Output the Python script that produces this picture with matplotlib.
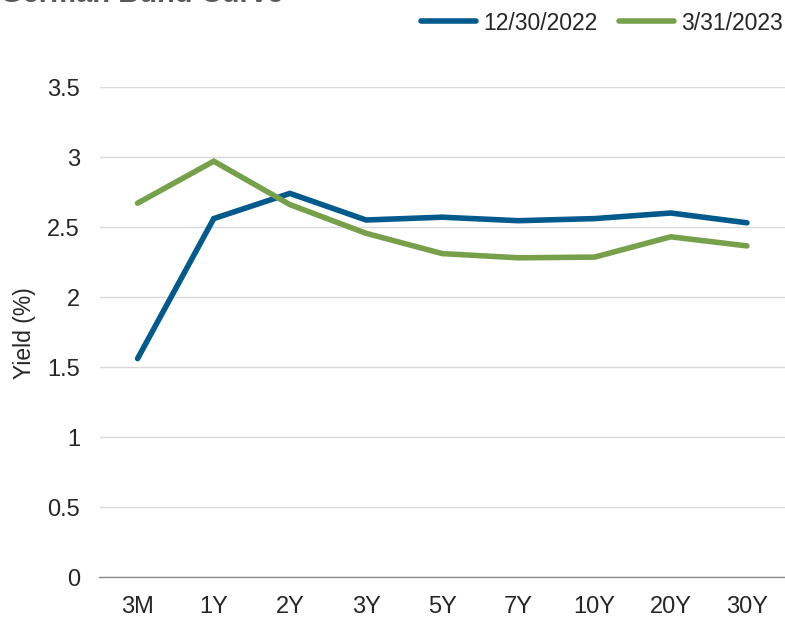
import matplotlib
matplotlib.use("Agg")
import matplotlib.pyplot as plt  # noqa: E402

tenors = ["3M", "1Y", "2Y", "3Y", "5Y", "7Y", "10Y", "20Y", "30Y"]
yield_dec22 = [1.56, 2.56, 2.74, 2.55, 2.57, 2.545, 2.56, 2.60, 2.53]
yield_mar23 = [2.67, 2.97, 2.66, 2.455, 2.31, 2.28, 2.285, 2.43, 2.365]
yticks = [0, 0.5, 1, 1.5, 2, 2.5, 3, 3.5]
ytick_labels = ["0", "0.5", "1", "1.5", "2", "2.5", "3", "3.5"]

BLUE = "#005a8c"
GREEN = "#77a04a"
TXT = "#262626"

plt.rcParams["font.family"] = ["Liberation Sans", "DejaVu Sans"]

fig = plt.figure(figsize=(7.85, 6.18), dpi=100)
ax = fig.add_axes([99.5 / 785, 1 - 577 / 618, 1 - 99.5 / 785, (577 - 87) / 618])

x = range(len(tenors))
ax.plot(x, yield_dec22, color=BLUE, lw=4.0, solid_capstyle="round",
        solid_joinstyle="miter", label="12/30/2022", zorder=3)
ax.plot(x, yield_mar23, color=GREEN, lw=4.0, solid_capstyle="round",
        solid_joinstyle="miter", label="3/31/2023", zorder=3)

ax.set_xlim(-0.5, len(tenors) - 0.5)
ax.set_ylim(0, 3.5)
ax.set_xticks(list(x))
ax.set_xticklabels(tenors, family=["Liberation Sans Narrow", "Liberation Sans"])
ax.set_yticks(yticks)
ax.set_yticklabels(ytick_labels)
ax.tick_params(axis="both", length=0, labelsize=17, colors=TXT)
ax.tick_params(axis="y", pad=14)
ax.tick_params(axis="x", pad=14)
ax.grid(axis="y", color="#d9d9d9", lw=1.0)
ax.set_axisbelow(True)
for s in ["top", "right", "left"]:
    ax.spines[s].set_visible(False)
ax.spines["bottom"].set_color("#8c8c8c")
ax.spines["bottom"].set_linewidth(1.0)
ax.spines["bottom"].set_zorder(2)

fig.text(24 / 785, 1 - 333 / 618, "Yield (%)", rotation=90, ha="center",
         va="center", fontsize=16.5, color=TXT)

# title sits mostly above the visible area in the original
fig.text(0.0, 1 - 1.5 / 618, "German Bund Curve", ha="left", va="baseline",
         fontsize=21, fontweight="bold", color="#595959")

fig.legend(loc="center right", bbox_to_anchor=(783 / 785, 1 - 23 / 618),
           ncol=2, frameon=False, fontsize=16.5, handlelength=2.4,
           handletextpad=0.3, columnspacing=0.95, borderaxespad=0,
           borderpad=0, labelcolor=TXT)

fig.savefig("out.png", dpi=100)
